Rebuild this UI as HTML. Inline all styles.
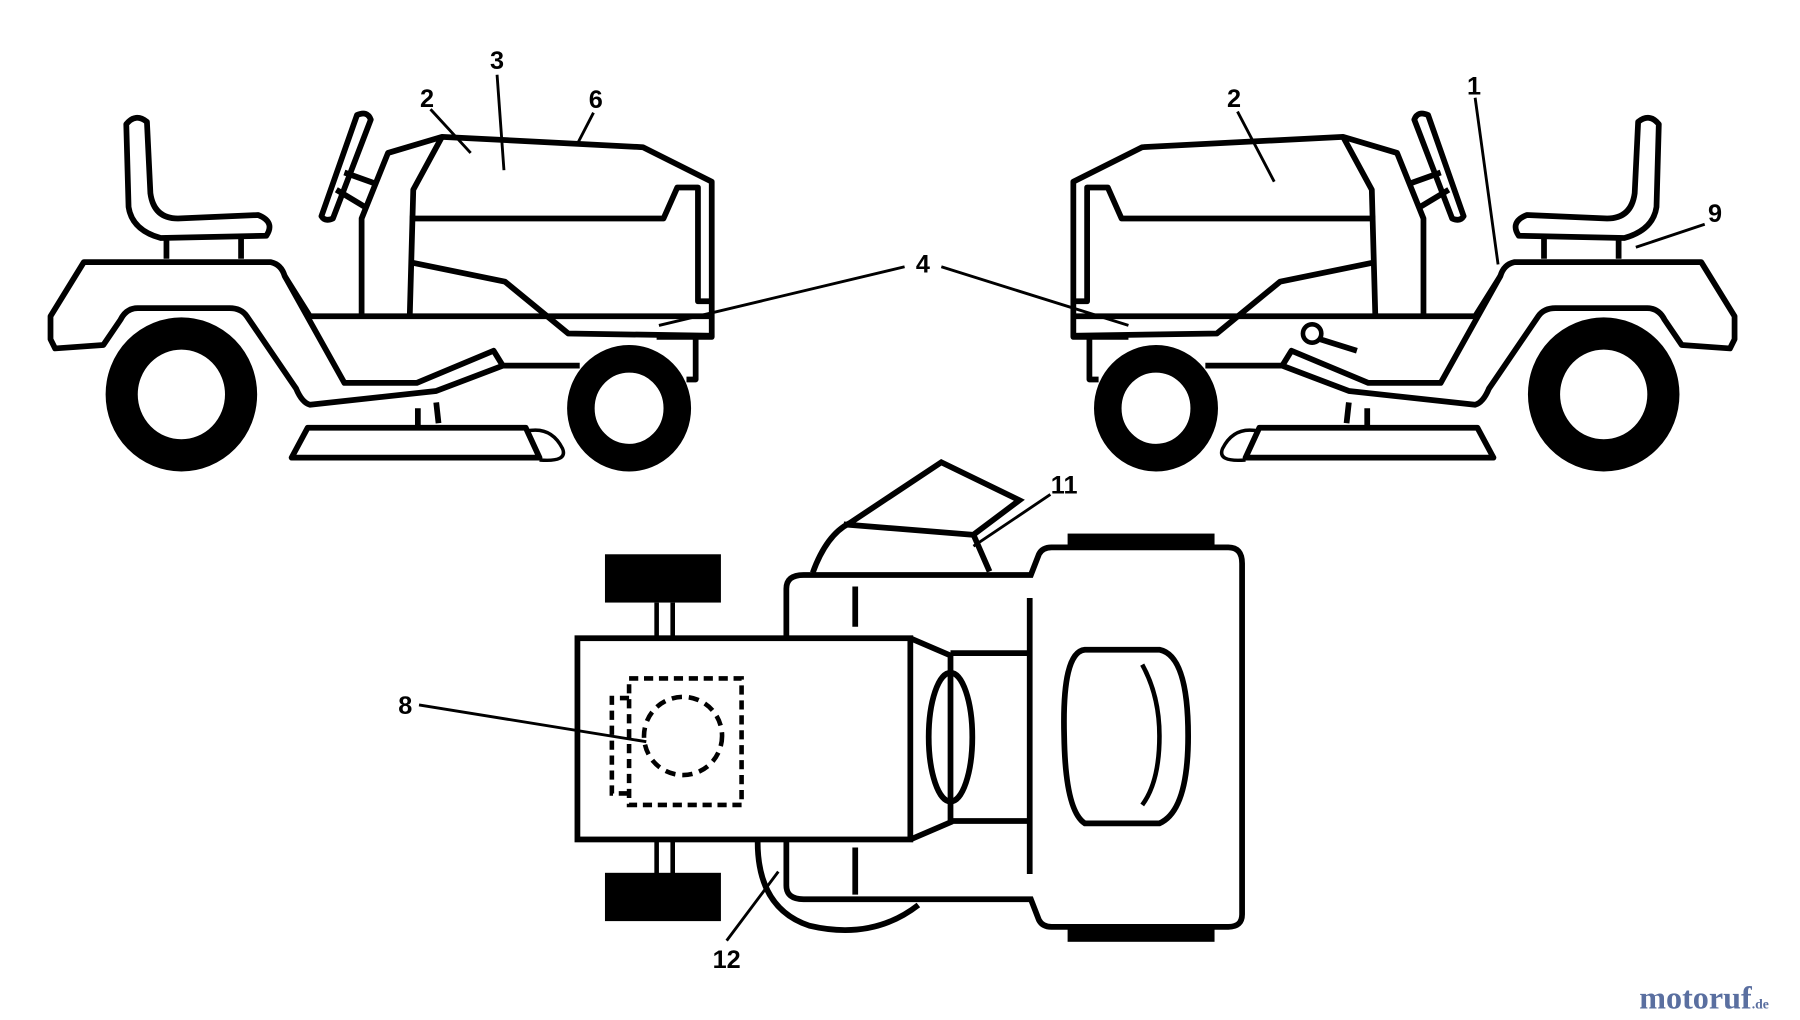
<!DOCTYPE html>
<html><head><style>html,body{margin:0;padding:0;background:#fff;width:1800px;height:1020px;overflow:hidden}</style></head>
<body>
<svg width="1800" height="1020" viewBox="0 0 1568 887" preserveAspectRatio="none" xmlns="http://www.w3.org/2000/svg">
<defs>
<g id="tr" fill="none" stroke="#000" stroke-width="5" stroke-linejoin="round">
  <path d="M110,108 Q118,98 128,106 L131,168 Q134,190 155,190 L225,187 Q240,193 232,205 L140,207 Q115,200 112,180 Z" fill="#fff"/>
  <path d="M145,207 L145,225 M210,207 L210,225"/>
  <path d="M280,188 L311,100 Q320,96 323,104 L290,190 Q283,193 280,188 Z" fill="#fff"/>
  <path d="M300,150 L328,160 M293,165 L318,180"/>
  <path d="M315,273 L315,190 L338,133 L385,119 L560,128 L620,158 L620,293 L572,293"/>
  <path d="M385,119 L360,165 L357,273"/>
  <path d="M357,190 L578,190 L590,163 L608,163 L608,262 L620,262"/>
  <path d="M357,228 L440,245 L495,290 L620,292"/>
  <path d="M44,295 L44,275 L73,228 L236,228 Q245,230 248,240 L300,333 L363,333 L430,305 L438,318 L380,340 L270,352 Q263,350 258,338 L215,275 Q210,268 200,268 L120,268 Q110,268 105,278 L90,300 L48,303 Z" fill="#fff"/>
  <path d="M248,240 L270,275 L620,275"/>
  <path d="M606,293 L606,330 L598,330 M438,318 L505,318"/>
  <path d="M268,372 L458,372 L470,398 L254,398 Z"/>
  <path d="M364,355 L364,370 M380,350 L382,368"/>
  <path d="M458,375 Q480,370 490,390 Q495,402 470,400" stroke-width="3"/>
</g>
</defs>
<use href="#tr"/>
<use href="#tr" transform="translate(1555,0) scale(-1,1)"/>
<g fill="#fff" stroke="#000">
  <ellipse cx="158" cy="343" rx="52" ry="53" stroke-width="28"/>
  <ellipse cx="548" cy="355" rx="42" ry="43" stroke-width="24"/>
  <ellipse cx="1397" cy="343" rx="52" ry="53" stroke-width="28"/>
  <ellipse cx="1007" cy="355" rx="42" ry="43" stroke-width="24"/>
</g>
<circle cx="1143" cy="290" r="8" fill="#fff" stroke="#000" stroke-width="4"/>
<path d="M1150,295 L1182,305" stroke="#000" stroke-width="5"/>
<g stroke="#000" stroke-width="5" fill="none">
  <path d="M708,498 Q720,465 740,455 L820,402 L888,435 L848,465 L862,497"/>
  <path d="M735,456 L847,465"/>
  <path d="M660,732 Q660,790 705,805 Q760,818 800,787"/>
  <path d="M685,555 L685,512 Q685,500 700,500 L898,500 L905,482 Q908,476 916,476 L1070,476 Q1082,476 1082,490 L1082,795 Q1082,806 1070,806 L916,806 Q908,806 905,800 L898,782 L700,782 Q685,782 685,770 L685,730"/>
  <path d="M897,520 L897,760"/>
  <path d="M745,510 L745,545 M745,737 L745,778" />
  <rect x="503" y="555" width="290" height="175" fill="#fff"/>
  <path d="M793,555 L828,570 L828,715 L793,730"/>
  <path d="M828,568 L895,568 M828,714 L895,714"/>
  <ellipse cx="828" cy="641" rx="19" ry="56"/>
  <path d="M945,565 Q925,567 927,640 Q928,705 945,716 L1010,716 Q1035,705 1035,640 Q1035,570 1010,565 Z"/>
  <path d="M995,578 Q1010,605 1010,640 Q1010,680 995,700" stroke-width="4"/>
  <path d="M572,524 L572,555 M586,524 L586,555 M572,730 L572,760 M586,730 L586,760" stroke-width="4"/>
  <rect x="548" y="590" width="98" height="110" stroke-dasharray="8,5" stroke-width="4"/>
  <path d="M548,607 L533,607 L533,690 L548,690" stroke-dasharray="8,5" stroke-width="4"/>
  <circle cx="595" cy="640" r="34" stroke-dasharray="9,6" stroke-width="4"/>
</g>
<rect x="527" y="482" width="101" height="42" fill="#000"/>
<rect x="527" y="759" width="101" height="42" fill="#000"/>
<rect x="930" y="464" width="128" height="14" fill="#000"/>
<rect x="930" y="805" width="128" height="14" fill="#000"/>
<g stroke="#000" stroke-width="2.5" fill="none">
  <path d="M433,65 L439,148 M375,95 L410,133 M517,98 L503,125 M788,232 L574,283 M820,232 L983,283 M1078,97 L1110,158 M1285,85 L1305,230 M1485,195 L1425,215 M915,430 L848,475 M365,613 L563,645 M633,818 L678,758"/>
</g>
<g font-family="Liberation Sans, sans-serif" font-weight="bold" font-size="22" fill="#000" text-anchor="middle">
  <text x="433" y="60">3</text><text x="372" y="93">2</text><text x="519" y="94">6</text>
  <text x="804" y="237">4</text><text x="1075" y="93">2</text><text x="1284" y="82">1</text>
  <text x="1494" y="193">9</text><text x="927" y="429">11</text><text x="353" y="621">8</text>
  <text x="633" y="842">12</text>
</g>
<text x="1428" y="877" font-family="Liberation Serif, serif" font-weight="bold" font-size="28" fill="#5a6fa0">motoruf<tspan font-size="12">.de</tspan></text>
</svg>
</body></html>
